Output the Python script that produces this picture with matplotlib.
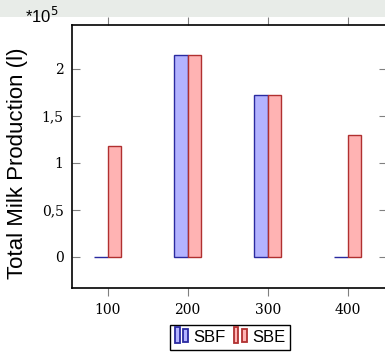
import numpy as np
import matplotlib
matplotlib.use("Agg")
import matplotlib.pyplot as plt
from matplotlib.patches import Rectangle

# data (values in units of 10^5 l)
categories = [100, 200, 300, 400]
sbf = [0.0, 2.15, 1.72, 0.0]
sbe = [1.18, 2.15, 1.72, 1.30]
ytick_vals = [0, 0.5, 1, 1.5, 2]
ytick_labels = ["0", "0,5", "1", "1,5", "2"]


class TwoBarHandler:
    """pgfplots-like ybar legend image: two small bars"""
    def __init__(self, fc, ec):
        self.fc = fc
        self.ec = ec

    def legend_artist(self, legend, orig_handle, fontsize, handlebox):
        x0, y0 = handlebox.xdescent, handlebox.ydescent
        w, h = handlebox.width, handlebox.height
        bw = w * 0.3
        r1 = Rectangle((x0 + w * 0.02, y0 - h * 0.15), bw, h * 1.3,
                       fc=self.fc, ec=self.ec, lw=1.3, transform=handlebox.get_transform())
        r2 = Rectangle((x0 + w * 0.58, y0 + h * 0.0), bw, h * 1.0,
                       fc=self.fc, ec=self.ec, lw=1.3, transform=handlebox.get_transform())
        handlebox.add_artist(r1)
        handlebox.add_artist(r2)
        return r1


fig = plt.figure(figsize=(3.85, 3.53), dpi=100)
fig.patches.append(Rectangle((0, 1 - 17 / 353), 1, 17 / 353, transform=fig.transFigure,
                             fc="#e8ece8", ec="none", zorder=0))
ax = fig.add_axes([72 / 385, 65 / 353, 315 / 385, 263 / 353])

x = np.array(categories, dtype=float)
w = 17
blue_fc, blue_ec = "#b3b3ff", "#2a2aa0"
red_fc, red_ec = "#ffb3b3", "#b03030"
b1 = ax.bar(x - w / 2, sbf, width=w, color=blue_fc, edgecolor=blue_ec, linewidth=1.0, zorder=3)
b2 = ax.bar(x + w / 2, sbe, width=w, color=red_fc, edgecolor=red_ec, linewidth=1.0, zorder=3)

ax.set_xlim(55.6, 449)
ax.set_ylim(-0.33, 2.468)
ax.set_xticks(categories)
ax.set_xticklabels([str(c) for c in categories], fontfamily="DejaVu Serif", fontsize=10)
ax.set_yticks(ytick_vals)
ax.set_yticklabels(ytick_labels, fontfamily="DejaVu Serif", fontsize=10)
ax.tick_params(axis="x", direction="out", top=True, length=6, color="#808080", pad=5)
ax.tick_params(axis="y", direction="in", right=True, length=6, color="#808080", pad=6)
for s in ax.spines.values():
    s.set_linewidth(1.2)

fig.text(17.5 / 385, 1 - 163.5 / 353, "Total Milk Production (l)", rotation=90,
         ha="center", va="center", fontfamily="Liberation Sans", fontsize=16)
fig.text(25 / 385, 1 - 23 / 353, r"*10$^5$", fontfamily="Liberation Sans", fontsize=12,
         math_fontfamily="dejavusans")

leg = fig.legend([b1, b2], ["SBF", "SBE"], loc="upper center",
                 bbox_to_anchor=(230 / 385, 1 - 325 / 353),
                 handler_map={b1: TwoBarHandler(blue_fc, blue_ec), b2: TwoBarHandler(red_fc, red_ec)},
                 ncol=2, fancybox=False, edgecolor="black", framealpha=1,
                 prop={"family": "Liberation Sans", "size": 12},
                 handlelength=0.9, handleheight=0.8, handletextpad=0.2, columnspacing=0.5,
                 borderpad=0.3, borderaxespad=0)
leg.get_frame().set_linewidth(1.0)

fig.savefig("out.png", dpi=100)
